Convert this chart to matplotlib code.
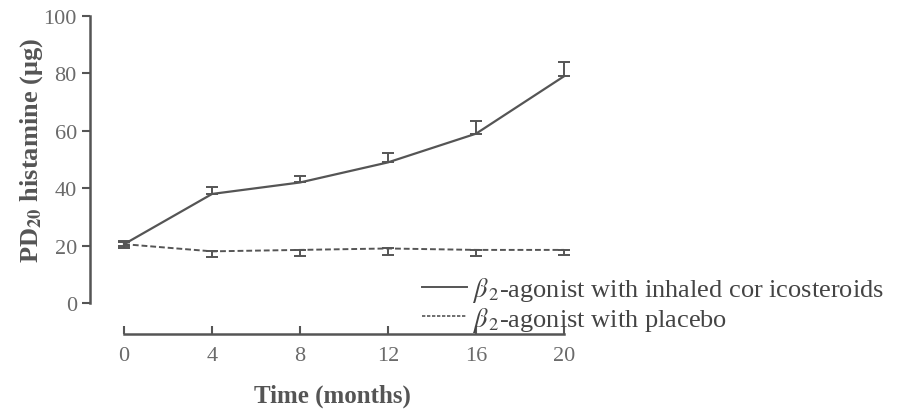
import matplotlib
matplotlib.use("Agg")
import matplotlib.pyplot as plt
from matplotlib.lines import Line2D

months = [0, 4, 8, 12, 16, 20]
steroid_mean = [20.5, 38, 42, 49, 59, 79]
steroid_err = [1.2, 2.4, 2.4, 3.3, 4.5, 5.0]
placebo_mean = [20.5, 18, 18.5, 19, 18.5, 18.5]
placebo_err = [1.2, 2.0, 2.0, 2.2, 2.0, 1.8]
y_ticks = [0, 20, 40, 60, 80, 100]

GREY = "#555555"
TICKGREY = "#6a6a6a"
plt.rcParams["font.family"] = ["Liberation Serif", "DejaVu Serif"]
plt.rcParams["mathtext.fontset"] = "stix"

fig = plt.figure(figsize=(9, 4.1), dpi=100)
ax = fig.add_axes([90 / 900, 1 - 335 / 410, (575 - 90) / 900, (335 - 17) / 410])

ax.plot(months, steroid_mean, color=GREY, lw=1.6, solid_joinstyle="round")
ax.errorbar(months, steroid_mean, yerr=[[0.8] + [0] * 5, steroid_err],
            fmt="none", ecolor=GREY, elinewidth=1.4, capsize=4, capthick=1.4)
ax.plot(months, placebo_mean, color=GREY, lw=1.4, ls=(0, (3, 1.5)))
ax.errorbar(months, placebo_mean, yerr=[placebo_err, [0.8] + [0] * 5],
            fmt="none", ecolor=GREY, elinewidth=1.4, capsize=4, capthick=1.4)

ax.set_xlim(-1.55, 20.5)
ax.set_ylim(-10.8, 100)
ax.spines["top"].set_visible(False)
ax.spines["right"].set_visible(False)
ax.spines["left"].set_bounds(0, 100)
ax.spines["bottom"].set_bounds(0, 20)
for s in ("left", "bottom"):
    ax.spines[s].set_color(GREY)
    ax.spines[s].set_linewidth(1.8)

ax.set_xticks(months)
ax.set_yticks(y_ticks)
ax.tick_params(colors=GREY, labelcolor=TICKGREY, labelsize=16, width=1.5, length=6)
ax.tick_params(axis="x", direction="in", pad=9)

ax.set_ylabel(r"PD$_{\mathbf{20}}$ histamine (μg)", fontsize=19, fontweight="bold",
              color=GREY)
ax.yaxis.set_label_coords(-0.093, 0.58)
ax.set_xlabel("Time (months)", fontsize=18, fontweight="bold", color=GREY)
ax.xaxis.set_label_coords(0.5, -0.155)

handles = [Line2D([], [], color=GREY, lw=1.4),
           Line2D([], [], color=GREY, lw=1.2, ls=(0, (2, 1)))]
labels = [r"$\beta_{\,2}$-agonist with inhaled cor icosteroids",
          r"$\beta_{\,2}$-agonist with placebo"]
leg = fig.legend(handles, labels, loc="upper left", bbox_to_anchor=(422 / 900, 1 - 276 / 410),
                 frameon=False, fontsize=19, handlelength=1.7, handletextpad=0.2,
                 labelspacing=0.02, borderpad=0, borderaxespad=0)
for t in leg.get_texts():
    t.set_color("#444444")

fig.savefig("out.png", dpi=100)
